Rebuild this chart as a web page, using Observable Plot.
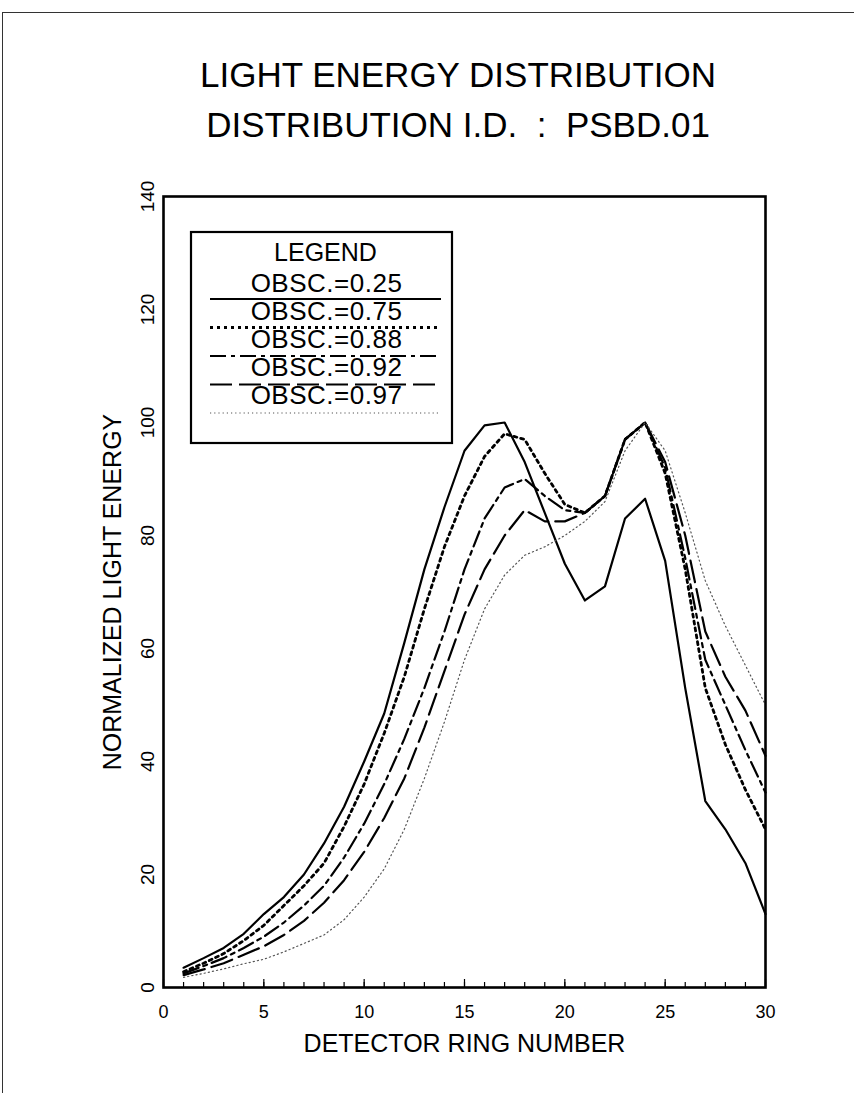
<!DOCTYPE html>
<html>
<head>
<meta charset="utf-8">
<script src="https://cdn.jsdelivr.net/npm/d3@7"></script>
<script src="https://cdn.jsdelivr.net/npm/@observablehq/plot@0.6"></script>
<style>
  body { margin: 0; background: #fff; font-family: "Liberation Sans", Arial, sans-serif; color: #000; }
  #page { position: relative; width: 854px; height: 1093px; overflow: hidden; background: #fff; }
  #border { position: absolute; left: 2px; top: 12px; width: 900px; height: 1200px;
            border-left: 1.5px solid #333; border-top: 1.5px solid #333; }
  .title { position: absolute; left: 0; width: 916px; text-align: center; font-size: 35px; line-height: 1; white-space: pre; }
  #chart { position: absolute; left: 0; top: 160px; }
  #legend { position: absolute; left: 0; top: 0; }
</style>
</head>
<body>
<div id="page">
  <div id="border"></div>
  <div class="title" id="t1" style="top:57px"></div>
  <div class="title" id="t2" style="top:107px"></div>
  <div id="chart"></div>
  <svg id="legend" width="854" height="1093"></svg>
</div>
<script>
// ---- text ----
const titleLines = ["LIGHT ENERGY DISTRIBUTION", "DISTRIBUTION I.D.  :  PSBD.01"];
const xLabel = "DETECTOR RING NUMBER";
const yLabel = "NORMALIZED LIGHT ENERGY";
const legendTitle = "LEGEND";

// ---- categories / ticks ----
const rings = [1,2,3,4,5,6,7,8,9,10,11,12,13,14,15,16,17,18,19,20,21,22,23,24,25,26,27,28,29,30];
const xTickLabels = [0,5,10,15,20,25,30];
const xMinorTicks = [0,1,2,3,4,5,6,7,8,9,10,11,12,13,14,15,16,17,18,19,20,21,22,23,24,25,26,27,28,29,30];
const yTickLabels = [0,20,40,60,80,100,120,140];

// ---- series ----
const seriesNames = ["OBSC.=0.25", "OBSC.=0.75", "OBSC.=0.88", "OBSC.=0.92", "OBSC.=0.97"];
const obsc025 = [3.5,5.2,7,9.5,13,16,20,25.5,32,40,48.5,61,74,85,95,99.5,100,93,84,75,68.5,71,83,86.5,75.5,53,33,28,22,13];
const obsc075 = [2.8,4.3,6,8.3,11,14.5,18,22,28.5,36,45,55,67,78,87,94,98,97,91,85.5,84,87,97,100,91,74,53,43,35,28];
const obsc088 = [2.5,3.8,5.2,7,9,11.5,14.5,18,23,29,36,44,53,63,74,83,88.5,90,87,84.5,84,87,97,100,92,76,58,50,42,34.5];
const obsc092 = [2.2,3.2,4.3,5.8,7.3,9.3,11.8,15,19,24,30,37,46,56,66,74,80,84.5,82.5,82.5,84,87,97,100,93,80,63,55,49,41];
const obsc097 = [1.8,2.5,3.3,4.2,5,6.3,7.8,9.3,12,16,21,28,37,47,58,67,73,76.5,78,80,82.5,86,95,100,95,84,72,64,57,50];
const seriesValues = [obsc025, obsc075, obsc088, obsc092, obsc097];

// line styles per series
const styles = [
  {stroke: "#000", strokeWidth: 2.2, strokeDasharray: null},
  {stroke: "#000", strokeWidth: 2.8, strokeDasharray: "3,4"},
  {stroke: "#000", strokeWidth: 2.2, strokeDasharray: "16,5,4,5"},
  {stroke: "#000", strokeWidth: 2.2, strokeDasharray: "22,7"},
  {stroke: "#555", strokeWidth: 1.2, strokeDasharray: "1.2,3"}
];

const tables = seriesValues.map((vals, i) => rings.map((r, j) => ({ring: r, value: vals[j], series: seriesNames[i]})));

document.getElementById("t1").textContent = titleLines[0];
document.getElementById("t2").textContent = titleLines[1];

const font = "Liberation Sans, Arial, sans-serif";
const chart = Plot.plot({
  width: 854,
  height: 927,
  marginTop: 36,
  marginLeft: 163,
  marginRight: 89,
  marginBottom: 100,
  x: {domain: [0, 30]},
  y: {domain: [0, 140]},
  style: {fontFamily: font, color: "#000", background: "transparent", overflow: "visible"},
  marks: [
    ...tables.map((t, i) => Plot.line(t, {x: "ring", y: "value", ...styles[i], strokeLinejoin: "round"})),
    Plot.axisX({ticks: xMinorTicks, tickSize: -5, tickFormat: () => "", strokeWidth: 1.2, label: null}),
    Plot.axisX({ticks: xTickLabels, tickSize: -8, strokeWidth: 1.2, tickPadding: 26, fontSize: 18,
                label: xLabel, labelAnchor: "center", labelOffset: 64, labelArrow: "none"}),
    Plot.axisY({ticks: yTickLabels, tickSize: 0, tickRotate: -90, tickPadding: 10, fontSize: 19,
                label: yLabel, labelAnchor: "center", labelOffset: 60, labelArrow: "none"}),
    Plot.frame({stroke: "#000", strokeWidth: 2.6})
  ]
});
document.getElementById("chart").appendChild(chart);
// enlarge axis titles
chart.querySelectorAll("g[aria-label='x-axis label'] text, g[aria-label='y-axis label'] text").forEach(t => t.setAttribute("font-size", 25));

// ---- legend box ----
const lg = d3.select("#legend");
const bx = 191, by = 232, bw = 261, bh = 211;
lg.append("rect").attr("x", bx).attr("y", by).attr("width", bw).attr("height", bh)
  .attr("fill", "#fff").attr("stroke", "#000").attr("stroke-width", 2.2);
lg.append("text").attr("x", bx + bw / 2 + 4).attr("y", 261).attr("text-anchor", "middle")
  .attr("font-family", font).attr("font-size", 25).text(legendTitle);
seriesNames.forEach((name, i) => {
  lg.append("text").attr("x", bx + bw / 2 + 5).attr("y", 292 + 28 * i).attr("text-anchor", "middle")
    .attr("font-family", font).attr("font-size", 26).attr("letter-spacing", 0.5).text(name);
  lg.append("line").attr("x1", 210).attr("x2", 441).attr("y1", 299 + 28.5 * i).attr("y2", 299 + 28.5 * i)
    .attr("stroke", styles[i].stroke).attr("stroke-width", styles[i].strokeWidth)
    .attr("stroke-dasharray", styles[i].strokeDasharray);
});
</script>
</body>
</html>
